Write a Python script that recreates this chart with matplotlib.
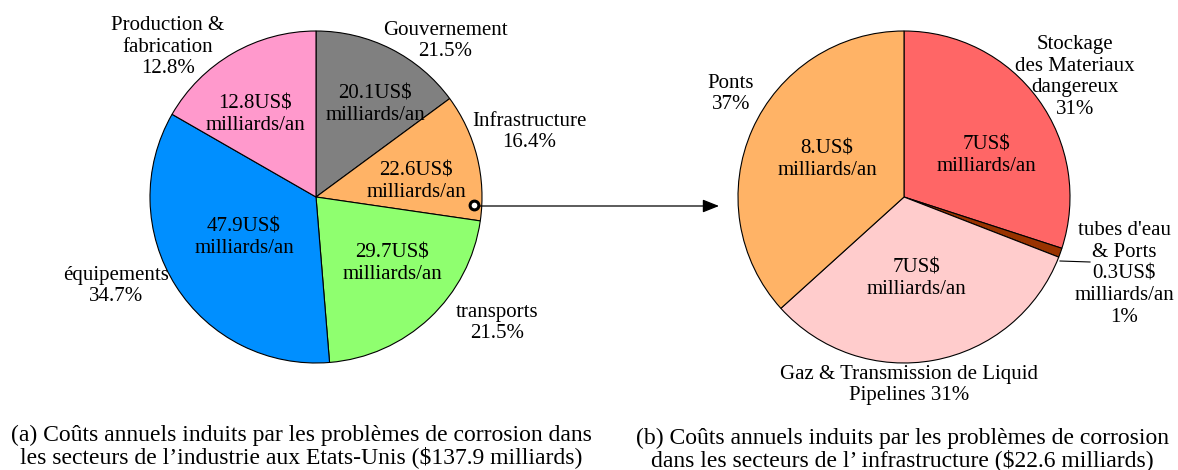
import matplotlib
matplotlib.use('Agg')
import matplotlib.pyplot as plt

plt.rcParams['font.family'] = ['Liberation Serif', 'DejaVu Serif']

'''
Two pies: corrosion costs by industry sector (a) and the
infrastructure slice broken down (b)
'''

# left pie, clockwise from the top
industry_sectors = ['Gouvernement', 'Infrastructure', 'transports', 'équipements', 'Production &\nfabrication']
industry_share = [14.9, 12.4, 21.4, 34.6, 16.7]      # slice sizes as drawn (%)
industry_pct = ['21.5%', '16.4%', '21.5%', '34.7%', '12.8%']
industry_cost = ['20.1', '22.6', '29.7', '47.9', '12.8']  # US$ milliards/an
industry_colors = ['#808080', '#FFB366', '#8FFF6F', '#008FFF', '#FF99CC']

# right pie, clockwise from the top
infra_sectors = ['Stockage\ndes Materiaux\ndangereux', "tubes d'eau\n& Ports",
                 'Gaz & Transmission de Liquid\nPipelines', 'Ponts']
infra_share = [30.0, 0.9, 32.4, 36.7]
infra_pct = ['31%', '1%', '31%', '37%']
infra_cost = ['7', '0.3', '7', '8.']
infra_colors = ['#FF6666', '#993300', '#FFCCCC', '#FFB366']

caption_a = "(a) Coûts annuels induits par les problèmes de corrosion dans\nles secteurs de l\u2019industrie aux Etats-Unis ($137.9 milliards)"
caption_b = "(b) Coûts annuels induits par les problèmes de corrosion\ndans les secteurs de l\u2019 infrastructure ($22.6 milliards)"

# layout (pixels from top-left)
W, H = 1178, 470
R = 166
left_center = (316, 197)
right_center = (904, 197)
FS = 15
FS_CAP = 17

fig = plt.figure(figsize=(W / 100, H / 100), dpi=100)
ax = fig.add_axes([0, 0, 1, 1])

wp = dict(edgecolor='black', linewidth=0.8)
# y axis is flipped below, so startangle=-90 + counterclock draws clockwise from the top
ax.pie(industry_share, colors=industry_colors, startangle=-90, counterclock=True,
       center=left_center, radius=R, wedgeprops=wp, frame=True)
ax.pie(infra_share, colors=infra_colors, startangle=-90, counterclock=True,
       center=right_center, radius=R, wedgeprops=wp, frame=True)

ax.set_xlim(0, W)
ax.set_ylim(H, 0)
ax.set_aspect('equal', adjustable='box')
ax.axis('off')

# inner value labels
industry_inner_xy = [(375, 105), (416, 182), (392, 264), (244, 238), (255, 115)]
for (x, y), c in zip(industry_inner_xy, industry_cost):
    ax.text(x, y, f'{c}US$\nmilliards/an', ha='center', va='center', fontsize=FS)

infra_inner_xy = [(986, 156), None, (916, 279), (827, 160)]
for xy, c in zip(infra_inner_xy, infra_cost):
    if xy is None:
        continue
    ax.text(xy[0], xy[1], f'{c}US$\nmilliards/an', ha='center', va='center', fontsize=FS)

# outer name labels
industry_outer_xy = [(445, 41), (529, 132), (497, 323), (116, 286), (168, 47)]
for (x, y), name, p in zip(industry_outer_xy, industry_sectors, industry_pct):
    ax.text(x, y, f'{name}\n{p}', ha='center', va='center', fontsize=FS)

infra_outer_xy = [(1075, 77), (1124, 274), (909, 385), (731, 94)]
for i, ((x, y), name, p) in enumerate(zip(infra_outer_xy, infra_sectors, infra_pct)):
    if i == 1:
        txt = f'{name}\n{infra_cost[i]}US$\nmilliards/an\n{p}'
    elif i == 2:
        txt = f'{name} {p}'
    else:
        txt = f'{name}\n{p}'
    ax.text(x, y, txt, ha='center', va='center', fontsize=FS)

# leader line for the thin slice
ax.plot([1060, 1090], [261, 262], color='black', linewidth=0.8)

# arrow from the infrastructure slice to the second pie
ax.annotate('', xy=(719, 206), xytext=(475, 206),
            arrowprops=dict(arrowstyle='-|>,head_length=1.0,head_width=0.4',
                            color='black', linewidth=0.9, shrinkA=0, shrinkB=0))
ax.scatter([474], [205], s=40, facecolor='white', edgecolor='black', linewidth=2.2, zorder=5)

# captions
ax.text(301, 446, caption_a, ha='center', va='center', fontsize=FS_CAP, linespacing=1.0)
ax.text(902, 449, caption_b, ha='center', va='center', fontsize=FS_CAP, linespacing=1.0)

fig.savefig('out.png', dpi=100)
